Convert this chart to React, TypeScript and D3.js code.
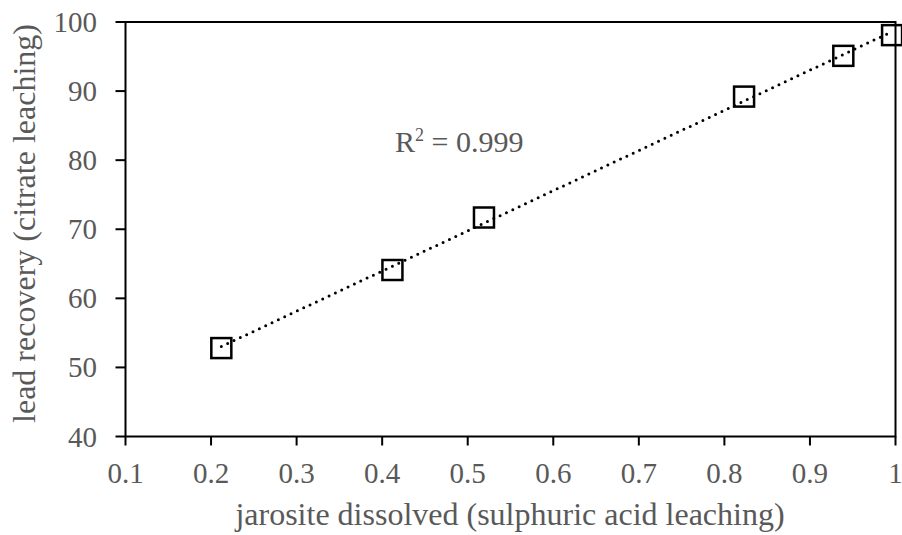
import React from "react";
import * as d3 from "d3";

const xValues = [0.212, 0.412, 0.519, 0.823, 0.939, 0.996];
const yValues = [52.8, 64.1, 71.7, 89.2, 95.1, 98.1];
const xTicks = [0.1, 0.2, 0.3, 0.4, 0.5, 0.6, 0.7, 0.8, 0.9, 1.0];
const yTicks = [40, 50, 60, 70, 80, 90, 100];
const xTitle = "jarosite dissolved (sulphuric acid leaching)";
const yTitle = "lead recovery (citrate leaching)";
const r2Label = "0.999";

const W = 902;
const H = 535;
const left = 125.5, right = 895.5, top = 22, bottom = 436.5;
const FONT = "'Liberation Serif', 'Times New Roman', serif";
const TXT = "#595959";

export default function App() {
  const x = d3.scaleLinear().domain([0.1, 1.0]).range([left, right]);
  const y = d3.scaleLinear().domain([40, 100]).range([bottom, top]);

  // least-squares trendline
  const n = xValues.length;
  const mx = d3.mean(xValues) as number;
  const my = d3.mean(yValues) as number;
  let sxy = 0, sxx = 0;
  for (let i = 0; i < n; i++) {
    sxy += (xValues[i] - mx) * (yValues[i] - my);
    sxx += (xValues[i] - mx) ** 2;
  }
  const slope = sxy / sxx;
  const intercept = my - slope * mx;
  const x0 = d3.min(xValues) as number;
  const x1 = d3.max(xValues) as number;
  const trend = d3.line<number>().x((d) => x(d)).y((d) => y(slope * d + intercept))([x0, x1]) as string;

  const sq = 20;

  return (
    <svg width={W} height={H} style={{ position: "absolute", left: 0, top: 0, background: "#fff" }}>
      {/* frame */}
      <rect x={left} y={top} width={right - left} height={bottom - top} fill="none" stroke="#000" strokeWidth={2} />
      {/* y ticks */}
      {yTicks.map((t) => (
        <g key={"y" + t}>
          <line x1={left - 10} x2={left} y1={y(t)} y2={y(t)} stroke="#000" strokeWidth={2} />
          <text x={97} y={y(t) + 10} textAnchor="end" fontFamily={FONT} fontSize={29} fill={TXT}>
            {t}
          </text>
        </g>
      ))}
      {/* x ticks */}
      {xTicks.map((t) => (
        <g key={"x" + t}>
          <line x1={x(t)} x2={x(t)} y1={bottom} y2={bottom + 9} stroke="#000" strokeWidth={2} />
          <text x={x(t)} y={482.5} textAnchor="middle" fontFamily={FONT} fontSize={29} fill={TXT}>
            {d3.format("~g")(t)}
          </text>
        </g>
      ))}
      {/* trendline */}
      <path d={trend} fill="none" stroke="#000" strokeWidth={3} strokeDasharray="0 7" strokeLinecap="round" />
      {/* markers */}
      {xValues.map((v, i) => (
        <rect
          key={"p" + i}
          x={x(v) - sq / 2}
          y={y(yValues[i]) - sq / 2}
          width={sq}
          height={sq}
          fill="none"
          stroke="#000"
          strokeWidth={2.5}
        />
      ))}
      {/* R2 */}
      <text x={395} y={152} fontFamily={FONT} fontSize={30} fill={TXT}>
        R<tspan fontSize={18} dy={-11}>2</tspan>
        <tspan dy={11}>{" = " + r2Label}</tspan>
      </text>
      {/* titles */}
      <text x={510} y={525} textAnchor="middle" fontFamily={FONT} fontSize={32} fill={TXT}>
        {xTitle}
      </text>
      <text
        transform={`translate(35, 223.5) rotate(-90)`}
        textAnchor="middle"
        fontFamily={FONT}
        fontSize={32}
        fill={TXT}
      >
        {yTitle}
      </text>
    </svg>
  );
}
